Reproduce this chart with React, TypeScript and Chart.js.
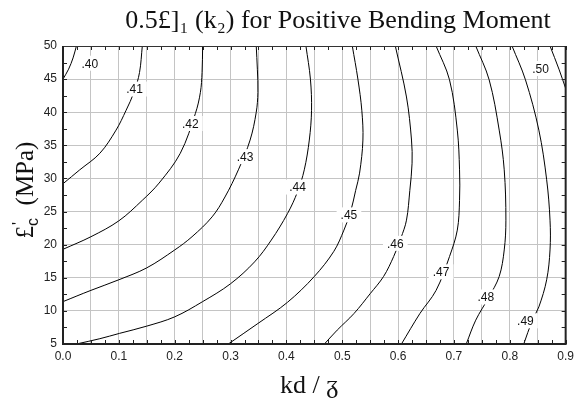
import React, { useEffect, useRef } from "react";
import { Chart, registerables } from "chart.js";

Chart.register(...registerables);

// Contour levels and their traced (kd/β, f'c) points
const levels = [".40", ".41", ".42", ".43", ".44", ".45", ".46", ".47", ".48", ".49", ".50"];

const c40: [number, number][] = [[0, 45], [0.01, 46.5], [0.018, 48.2], [0.024, 50]];
const c41: [number, number][] = [[0, 29.2], [0.03, 31.3], [0.066, 33.8], [0.095, 37.3], [0.113, 40.3], [0.127, 43], [0.137, 46], [0.142, 50]];
const c42: [number, number][] = [[0, 19.3], [0.05, 21.2], [0.1, 23.6], [0.142, 26.7], [0.172, 29.3], [0.21, 33.8], [0.237, 39.8], [0.246, 43], [0.249, 46], [0.25, 50]];
const c43: [number, number][] = [[0, 11.4], [0.05, 13.1], [0.1, 14.7], [0.15, 16.5], [0.2, 19.2], [0.231, 21.2], [0.267, 24.2], [0.29, 27.2], [0.314, 31.3], [0.335, 35.8], [0.346, 40], [0.349, 43], [0.348, 46.5], [0.346, 50]];
const c44: [number, number][] = [[0.024, 5], [0.066, 5.8], [0.101, 6.6], [0.15, 7.7], [0.2, 9.1], [0.25, 11.4], [0.3, 14.1], [0.343, 17.4], [0.373, 20.7], [0.402, 24.7], [0.42, 28], [0.432, 31.3], [0.441, 35.8], [0.445, 40.3], [0.443, 45], [0.435, 50]];
const c45: [number, number][] = [[0.296, 5], [0.349, 8.1], [0.402, 11.3], [0.45, 15.2], [0.485, 19], [0.503, 22.2], [0.515, 25], [0.524, 28.2], [0.531, 30.8], [0.537, 35.8], [0.535, 40.3], [0.528, 45], [0.518, 50]];
const c46: [number, number][] = [[0.468, 5], [0.491, 7.1], [0.521, 9.6], [0.55, 12.6], [0.574, 15.2], [0.592, 18.2], [0.605, 21], [0.615, 23.7], [0.621, 28.2], [0.625, 32.3], [0.624, 35.8], [0.615, 42.3], [0.595, 50]];
const c47: [number, number][] = [[0.606, 5], [0.639, 9.6], [0.668, 13.1], [0.692, 18.2], [0.706, 22.2], [0.71, 26.7], [0.71, 31.3], [0.706, 37.3], [0.692, 44.9], [0.668, 50]];
const c48: [number, number][] = [[0.722, 5], [0.739, 8.6], [0.762, 12], [0.781, 15.2], [0.79, 19.2], [0.793, 23.7], [0.79, 31.3], [0.781, 37.3], [0.763, 44.9], [0.739, 50]];
const c49: [number, number][] = [[0.825, 5], [0.84, 8.5], [0.852, 10.6], [0.866, 14.7], [0.872, 19.2], [0.872, 23.7], [0.866, 29.8], [0.852, 37.3], [0.828, 44.9], [0.804, 50]];
const c50: [number, number][] = [[0.872, 50], [0.888, 46.5], [0.9, 43.6]];

const contours = [c40, c41, c42, c43, c44, c45, c46, c47, c48, c49, c50];

// Contour label positions
const labelX = [0.048, 0.128, 0.228, 0.326, 0.42, 0.512, 0.595, 0.677, 0.757, 0.828, 0.855];
const labelY = [47.4, 43.5, 38.3, 33.3, 28.7, 24.5, 20.2, 15.9, 12.1, 8.5, 46.6];

const xMin = 0;
const xMax = 0.9;
const yMin = 5;
const yMax = 50;

const titleMain = "0.5£]₁ (k₂) for Positive Bending Moment";
const xTitle = "kd / ᵹ";
const yTitleMain = "£";
const yTitleSup = "'";
const yTitleSub = "c";
const yTitleTail = "  (MPa)";

const SERIF = "'Liberation Serif', 'DejaVu Serif', serif";
const SANS = "'Liberation Sans', Arial, sans-serif";

const isMult = (v: number, step: number) => Math.abs(v / step - Math.round(v / step)) < 1e-6;

const customPlugin = {
  id: "custom",
  afterDatasetsDraw(chart: any) {
    const { ctx, chartArea, scales } = chart;
    const { left, right, top, bottom } = chartArea;
    const xs = scales.x;
    const ys = scales.y;
    ctx.save();
    // contour labels with white boxes
    ctx.font = `12px ${SANS}`;
    ctx.textAlign = "center";
    ctx.textBaseline = "middle";
    levels.forEach((lab, i) => {
      const px = xs.getPixelForValue(labelX[i]);
      const py = ys.getPixelForValue(labelY[i]);
      const w = ctx.measureText(lab).width + 8;
      const h = 15;
      ctx.fillStyle = "#ffffff";
      ctx.fillRect(px - w / 2, py - h / 2, w, h);
      ctx.fillStyle = "#111111";
      ctx.fillText(lab, px, py + 1);
    });
    // inward tick marks
    ctx.strokeStyle = "#222222";
    ctx.lineWidth = 1;
    ctx.beginPath();
    xs.ticks.forEach((t: any) => {
      const px = Math.round(xs.getPixelForValue(t.value)) + 0.5;
      ctx.moveTo(px, bottom);
      ctx.lineTo(px, bottom - 4);
      ctx.moveTo(px, top);
      ctx.lineTo(px, top + 4);
    });
    ys.ticks.forEach((t: any) => {
      const py = Math.round(ys.getPixelForValue(t.value)) + 0.5;
      ctx.moveTo(left, py);
      ctx.lineTo(left + 4, py);
      ctx.moveTo(right, py);
      ctx.lineTo(right - 4, py);
    });
    ctx.stroke();
    // frame
    ctx.lineWidth = 1;
    ctx.strokeStyle = "#333333";
    ctx.beginPath();
    ctx.moveTo(left, top + 0.5);
    ctx.lineTo(right, top + 0.5);
    ctx.stroke();
    ctx.lineWidth = 2;
    ctx.strokeStyle = "#222222";
    ctx.beginPath();
    ctx.moveTo(left, top);
    ctx.lineTo(left, bottom);
    ctx.lineTo(right, bottom);
    ctx.lineTo(right, top);
    ctx.stroke();
    ctx.restore();
  },
  afterDraw(chart: any) {
    const { ctx, chartArea } = chart;
    const cx = (chartArea.left + chartArea.right) / 2;
    const cy = (chartArea.top + chartArea.bottom) / 2;
    ctx.save();
    ctx.fillStyle = "#111111";
    ctx.textBaseline = "alphabetic";
    // main title
    ctx.font = `26px ${SERIF}`;
    ctx.textAlign = "center";
    ctx.fillText(titleMain, 338, 28);
    // x title
    ctx.fillText(xTitle, cx - 5, 393);
    // y title (rotated)
    ctx.translate(33, cy - 5);
    ctx.rotate(-Math.PI / 2);
    ctx.textAlign = "left";
    ctx.font = `25px ${SERIF}`;
    const wMain = ctx.measureText(yTitleMain).width;
    const wTail = ctx.measureText(yTitleTail).width;
    ctx.font = `16px ${SANS}`;
    const wSub = ctx.measureText(yTitleSub).width;
    const total = wMain + wSub + wTail;
    let x0 = -total / 2;
    ctx.font = `25px ${SERIF}`;
    ctx.fillText(yTitleMain, x0, 0);
    x0 += wMain;
    ctx.font = `16px ${SANS}`;
    ctx.fillText(yTitleSup, x0 + 1, -9);
    ctx.fillText(yTitleSub, x0, 5);
    x0 += wSub;
    ctx.font = `25px ${SERIF}`;
    ctx.fillText(yTitleTail, x0, 0);
    ctx.restore();
  },
};

export default function App() {
  const canvasRef = useRef<HTMLCanvasElement | null>(null);

  useEffect(() => {
    document.body.style.margin = "0";
    if (!canvasRef.current) return;
    const chart = new Chart(canvasRef.current, {
      type: "line",
      data: {
        datasets: contours.map((pts, i) => ({
          label: levels[i],
          data: pts.map(([x, y]) => ({ x, y })),
          borderColor: "#000000",
          borderWidth: 1,
          pointRadius: 0,
          fill: false,
          tension: 0.35,
        })),
      },
      options: {
        animation: false,
        responsive: true,
        maintainAspectRatio: false,
        layout: { padding: { left: 0, right: 8, top: 46, bottom: 0 } },
        plugins: {
          legend: { display: false },
          title: { display: false },
          tooltip: { enabled: false },
        },
        scales: {
          x: {
            type: "linear",
            min: xMin,
            max: xMax,
            afterFit: (s: any) => {
              s.height = 59;
            },
            border: { display: false },
            grid: {
              drawTicks: false,
              lineWidth: 1,
              color: (c: any) => (c.tick && isMult(c.tick.value, 0.05) ? "#c4c4c4" : "rgba(0,0,0,0)"),
            },
            ticks: {
              stepSize: 0.025,
              autoSkip: false,
              maxRotation: 0,
              padding: 5,
              color: "#222222",
              font: { family: SANS, size: 12 },
              callback: (v: any) => (isMult(Number(v), 0.1) ? Number(v).toFixed(1) : ""),
            },
          },
          y: {
            type: "linear",
            min: yMin,
            max: yMax,
            afterFit: (s: any) => {
              s.width = 63;
            },
            border: { display: false },
            grid: {
              drawTicks: false,
              lineWidth: 1,
              color: (c: any) => (c.tick && isMult(c.tick.value, 5) ? "#c4c4c4" : "rgba(0,0,0,0)"),
            },
            ticks: {
              stepSize: 2.5,
              autoSkip: false,
              padding: 6,
              color: "#222222",
              font: { family: SANS, size: 12 },
              callback: (v: any) => (isMult(Number(v), 5) ? String(Math.round(Number(v))) : ""),
            },
          },
        },
      },
      plugins: [customPlugin],
    });
    return () => chart.destroy();
  }, []);

  return (
    <div style={{ position: "relative", width: 579, height: 403 }}>
      <canvas ref={canvasRef} />
    </div>
  );
}
